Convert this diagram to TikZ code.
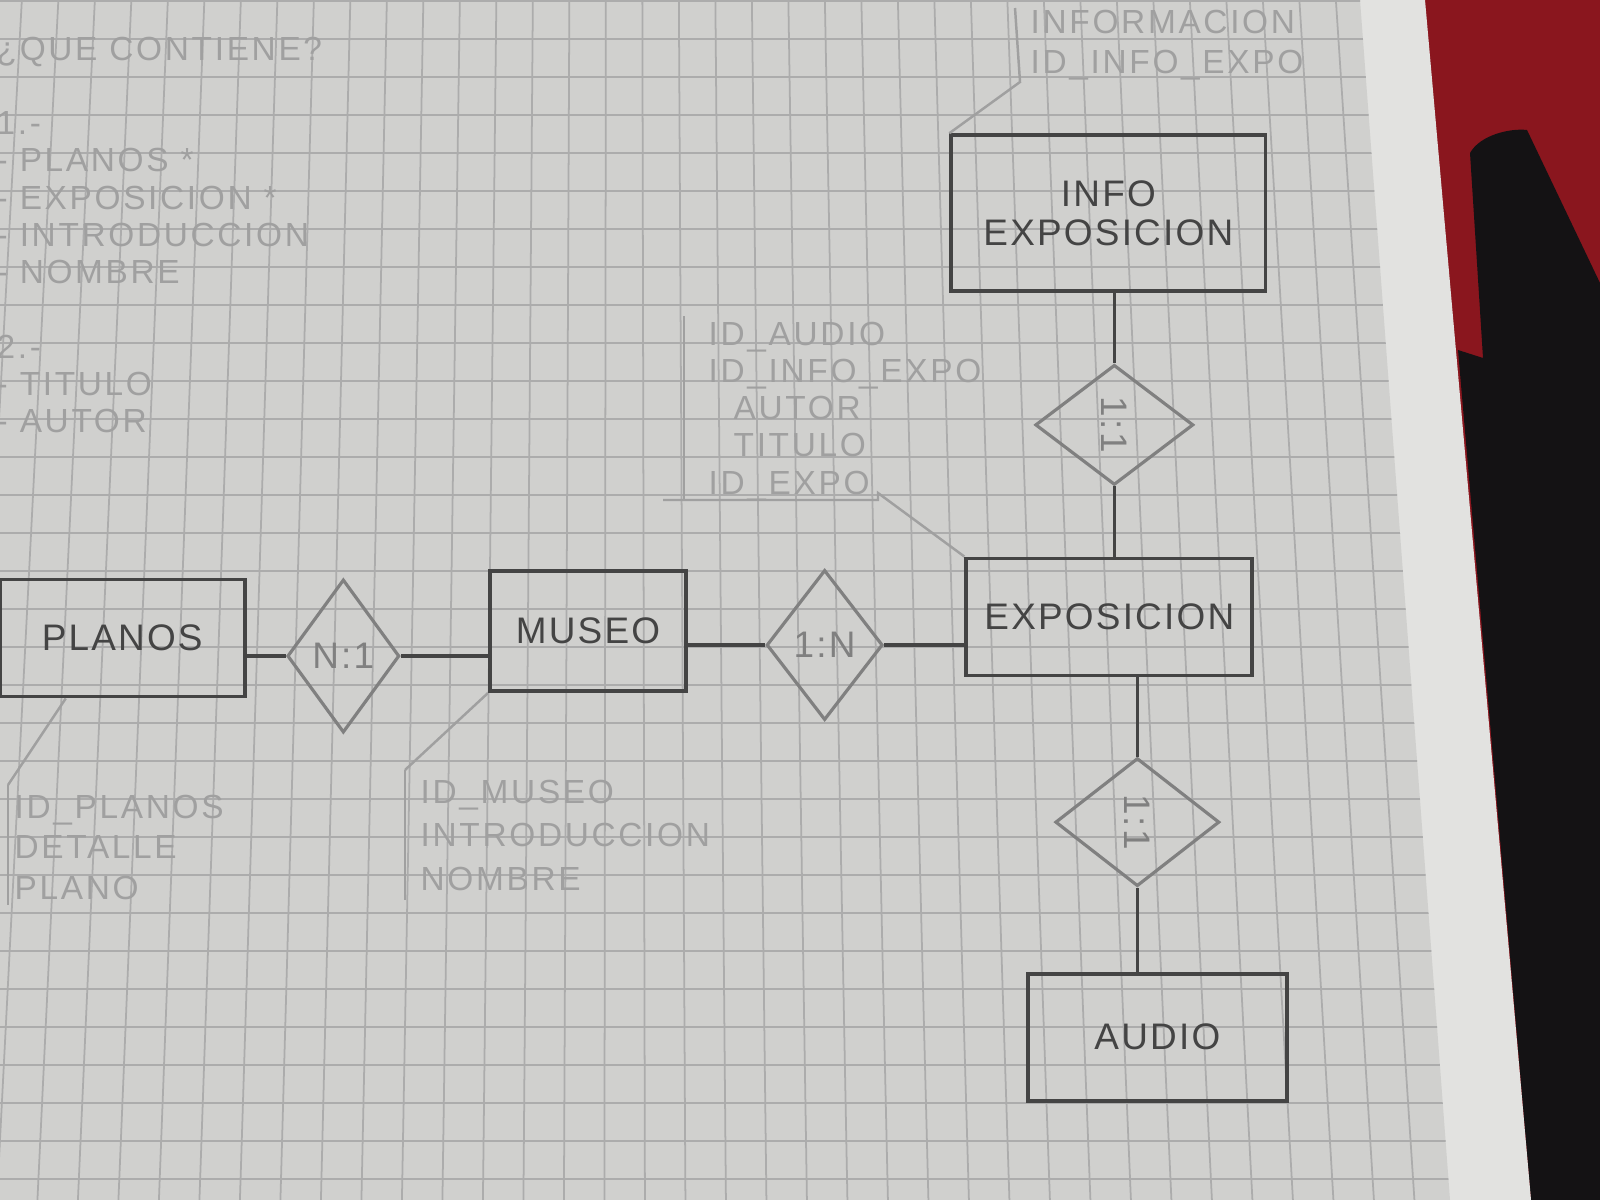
\documentclass[tikz,border=0pt]{standalone}
\usepackage{fontspec}
\setmainfont{Liberation Sans}
\newfontfamily\pencilfont[LetterSpace=6]{Liberation Sans}
\newfontfamily\faintfont[LetterSpace=8]{Liberation Sans}
\usetikzlibrary{shapes.geometric, positioning}

\definecolor{paper}{RGB}{208,208,206}
\definecolor{margin}{RGB}{226,226,224}
\definecolor{gridline}{RGB}{172,172,172}
\definecolor{pencil}{RGB}{68,68,68}
\definecolor{pencilL}{RGB}{128,128,128}
\definecolor{erased}{RGB}{160,160,160}
\definecolor{cloth}{RGB}{138,22,30}
\definecolor{coat}{RGB}{20,18,20}

\begin{document}
\begin{tikzpicture}[x=0.01cm, y=-0.01cm,
    ent/.style={draw=pencil, line width=1.1pt, text=pencil, align=center,
      font=\pencilfont\fontsize{10.5}{13}\selectfont},
    rel/.style={draw=pencilL, diamond, line width=0.9pt, inner sep=0pt, text=pencilL,
      font=\pencilfont\fontsize{10.5}{13}\selectfont},
    attr/.style={text=erased, align=left, anchor=north west, inner sep=0pt,
      font=\faintfont\fontsize{9.5}{10.6}\selectfont},
    lnk/.style={draw=pencil, line width=0.9pt},
    rub/.style={draw=erased, line width=0.7pt}]
  \useasboundingbox (0,0) rectangle (1600,1200);

  \fill[cloth] (0,0) rectangle (1600,1200);
  \fill[coat] (1470,153) .. controls (1480,135) and (1510,128) .. (1527,130)
    -- (1600,283) -- (1600,1200) -- (1531,1200) -- (1458,350) -- (1483,358) -- cycle;
  \fill[margin] (0,0) -- (1425,0) -- (1531,1200) -- (0,1200) -- cycle;
  \fill[paper] (0,0) -- (1360,0) -- (1450,1200) -- (0,1200) -- cycle;
  \begin{scope}
    \clip (0,0) -- (1360,0) -- (1450,1200) -- (0,1200) -- cycle;
    \foreach \k in {-18,...,22}
      \draw[gridline, line width=0.5pt] ({619+36.5*(\k+0.64)},0) -- ({619+40.5*(\k+0.64)},1200);
    \foreach \k in {0,...,31}
      \draw[gridline, line width=0.5pt] (0,38*\k+1) -- (1460,38*\k+1);
  \end{scope}

  \node[ent, minimum width=1.96cm, minimum height=1.2cm] (museo) at (588,631) {MUSEO};
  \node[rel, minimum width=1.12cm, minimum height=1.53cm, left=0.87cm of museo, yshift=-0.25cm] (n1) {N:1};
  \node[ent, minimum width=2.45cm, minimum height=1.17cm, left=0.39cm of n1, yshift=0.18cm] (planos) {PLANOS};
  \node[rel, minimum width=1.16cm, minimum height=1.5cm, right=0.77cm of museo, yshift=-0.14cm] (r1n) {1:N};
  \node[ent, minimum width=2.86cm, minimum height=1.17cm, right=0.8cm of r1n, yshift=0.28cm] (expo) {EXPOSICION};
  \node[rel, minimum width=1.58cm, minimum height=1.2cm, above=0.7cm of expo, xshift=0.05cm] (r11a) {\rotatebox{-90}{1:1}};
  \node[ent, minimum width=3.14cm, minimum height=1.56cm, above=0.7cm of r11a, xshift=-0.06cm] (info) {INFO\\[-2pt]EXPOSICION};
  \node[rel, minimum width=1.64cm, minimum height=1.28cm, below=0.79cm of expo, xshift=0.28cm] (r11b) {\rotatebox{-90}{1:1}};
  \node[ent, minimum width=2.59cm, minimum height=1.27cm, below=0.84cm of r11b, xshift=0.2cm] (audio) {AUDIO};

  \path[lnk] (n1.west) edge (n1.west -| planos.east)
    (n1.east) edge (n1.east -| museo.west)
    (r1n.west) edge (r1n.west -| museo.east)
    (r1n.east) edge (r1n.east -| expo.west)
    (r11a.north) edge (r11a.north |- info.south)
    (r11a.south) edge (r11a.south |- expo.north)
    (r11b.north) edge (r11b.north |- expo.south)
    (r11b.south) edge (r11b.south |- audio.north);

  \node[attr] (notas) at (-4,36) {¿QUE CONTIENE?\\[10.6pt]1.-\\- PLANOS *\\- EXPOSICION *\\- INTRODUCCION\\- NOMBRE\\[10.6pt]2.-\\- TITULO\\- AUTOR};
  \node[attr] (infoattr) at (1030,9) {INFORMACION\\[1pt]ID\_INFO\_EXPO};
  \node[attr] (audioattr) at (708,321) {ID\_AUDIO\\ID\_INFO\_EXPO\\\hspace{0.25cm}AUTOR\\\hspace{0.25cm}TITULO\\ID\_EXPO};
  \node[attr] (planosattr) at (14,794) {ID\_PLANOS\\[1pt]DETALLE\\[1pt]PLANO};
  \node[attr] (museoattr) at (420,779) {ID\_MUSEO\\[1.8pt]INTRODUCCION\\[1.8pt]NOMBRE};

  \coordinate (infobar) at (1015,8);
  \coordinate (infofoot) at (1020,82);
  \coordinate (audiobar) at (684,316);
  \coordinate (audiofoot) at (663,500);
  \coordinate (audiolink) at (878,493);
  \coordinate (planosbar) at (8,785);
  \coordinate (museobar) at (405,770);

  \draw[rub] (infobar) -- (infofoot) -- (info.north west);
  \draw[rub] (audiobar) -- (audiobar |- audiofoot);
  \draw[rub] (audiofoot) -- (audiofoot -| audiolink) -- (audiolink) -- (expo.north west);
  \draw[rub] (planosbar) -- ++(0,120);
  \draw[rub] (planosbar) -- ([xshift=0.68cm]planos.south west);
  \draw[rub] (museobar) -- ++(0,130);
  \draw[rub] (museobar) -- (museo.south west);
\end{tikzpicture}
\end{document}
